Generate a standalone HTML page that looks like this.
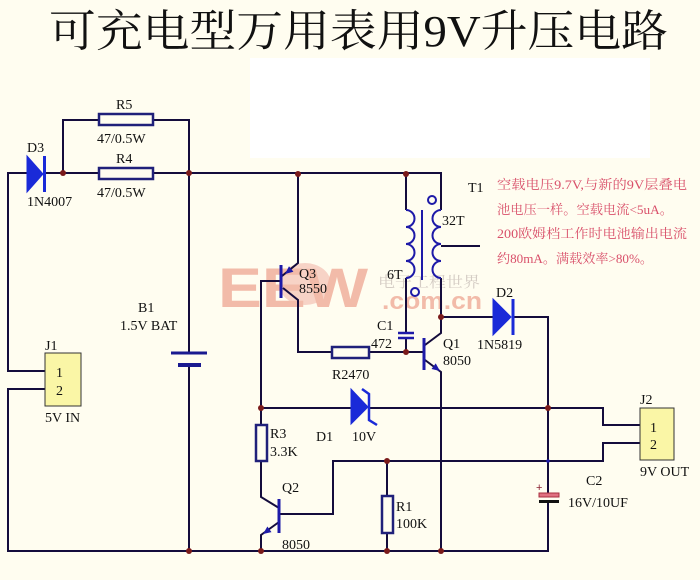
<!DOCTYPE html>
<html><head><meta charset="utf-8"><style>
html,body{margin:0;padding:0;background:#fffdf0;}
svg{display:block;}
.t{font-family:"Liberation Serif","Noto Serif CJK SC",serif;font-size:14px;fill:#111;}
</style></head><body>
<svg width="700" height="580" viewBox="0 0 700 580" xmlns="http://www.w3.org/2000/svg">
<rect x="0" y="0" width="700" height="580" fill="#fffdf0"/>
<rect x="250" y="58" width="400" height="100" fill="#ffffff"/>
<text x="49" y="46" font-family="'Liberation Serif','Noto Serif CJK SC',serif" font-size="44" fill="#111" textLength="619" lengthAdjust="spacingAndGlyphs">可充电型万用表用9V升压电路</text>
<ellipse cx="305" cy="284" rx="26" ry="21" fill="#f7d3c6"/>
<text x="218" y="307" font-family="'Liberation Sans',sans-serif" font-weight="bold" font-size="56" fill="#f2bba9" textLength="150" lengthAdjust="spacingAndGlyphs">EEW</text>
<text x="378" y="287" font-family="'Noto Serif CJK SC',serif" font-size="15" fill="#d4ccc4" textLength="102" lengthAdjust="spacingAndGlyphs">电子工程世界</text>
<text x="382" y="309" font-family="'Liberation Sans',sans-serif" font-weight="bold" font-size="24" fill="#f2bba9" textLength="100" lengthAdjust="spacingAndGlyphs">.com.cn</text>
<g fill="none" stroke="#140c3c" stroke-width="2">
<path d="M27,173 H8 V371 H45"/><path d="M45,389 H8 V551 H548 V501"/>
<path d="M43,173 H99"/><path d="M153,173 H441 V210"/>
<path d="M63,173 V120 H99"/><path d="M153,120 H189 V353"/><path d="M189,365 V551"/>
<path d="M298,174 V263 L282,276"/><path d="M283,288 L298,300 V352 H332"/><path d="M369,352 H423"/>
<path d="M281,281 H261 V425"/><path d="M261,461 V497 L279,508"/><path d="M279,522 L261,535 V551"/>
<path d="M279,514 H333 V461 H603 V443 H640"/>
<path d="M261,408 H351"/><path d="M369,408 H603 V425 H640"/>
<path d="M387,461 V496"/><path d="M387,533 V551"/>
<path d="M406,174 V210"/><path d="M406,278 V333"/><path d="M406,338 V352"/>
<path d="M441,278 V333 L425,345"/><path d="M441,246 H480"/>
<path d="M425,360 L441,372 V551"/>
<path d="M441,317 H493"/><path d="M513,317 H548 V493"/>
</g>
<g fill="none" stroke="#1e1aa8" stroke-width="2">
<path d="M406,210 a8.5,8.5 0 0 1 0,17 a8.5,8.5 0 0 1 0,17 a8.5,8.5 0 0 1 0,17 a8.5,8.5 0 0 1 0,17"/>
<path d="M441,210 a8.5,8.5 0 0 0 0,17 a8.5,8.5 0 0 0 0,17 a8.5,8.5 0 0 0 0,17 a8.5,8.5 0 0 0 0,17"/>
<line x1="422" y1="210" x2="422" y2="280"/>
<circle cx="432" cy="200" r="4"/><circle cx="415" cy="292" r="4"/>
<line x1="398" y1="333" x2="414" y2="333" stroke-width="2.5"/>
<line x1="398" y1="338" x2="414" y2="338" stroke-width="2.5"/>
</g>
<g stroke="#1e1aa8" stroke-width="3">
<line x1="281" y1="265" x2="281" y2="298"/>
<line x1="424" y1="338" x2="424" y2="370"/>
<line x1="279" y1="499" x2="279" y2="533"/>
</g>
<g fill="#1e1aa8">
<polygon points="285,274 293.4,271.7 289,266.2"/>
<polygon points="440,371 431.5,369 435.7,363.4"/>
<polygon points="263,534 271.5,532.1 267.4,526.5"/>
</g>
<g fill="#1a2ad8" stroke="#1a2ad8" stroke-width="1">
<polygon points="27,156 27,192 43,174"/>
<polygon points="493,299 493,335 511,317"/>
<polygon points="351,389 351,424 368,407"/>
</g>
<g stroke="#1a2ad8" stroke-width="3" fill="none">
<line x1="44.5" y1="156" x2="44.5" y2="192"/>
<line x1="513" y1="299" x2="513" y2="335"/>
<path d="M362,389 L369,394 V420 L377,425" stroke-width="2.5"/>
</g>
<g fill="#fffdf0" stroke="#20207a" stroke-width="2.5">
<rect x="99" y="114" width="54" height="11"/>
<rect x="99" y="168" width="54" height="11"/>
<rect x="332" y="347" width="37" height="11"/>
<rect x="256" y="425" width="11" height="36"/>
<rect x="382" y="496" width="11" height="37"/>
</g>
<line x1="171" y1="353" x2="207" y2="353" stroke="#1a1a90" stroke-width="3"/>
<line x1="178" y1="365" x2="201" y2="365" stroke="#1a1a90" stroke-width="4"/>
<rect x="45" y="353" width="36" height="53" fill="#faf6a6" stroke="#333" stroke-width="1"/>
<rect x="640" y="408" width="34" height="52" fill="#faf6a6" stroke="#333" stroke-width="1"/>
<rect x="539" y="493" width="20" height="4" fill="#e07080" stroke="#a83040" stroke-width="1"/>
<line x1="539" y1="501.5" x2="559" y2="501.5" stroke="#111" stroke-width="3"/>
<text x="536" y="491" font-family="'Liberation Sans',sans-serif" font-size="11" fill="#8a2030">+</text>
<g fill="#7a1a1a">
<circle cx="63" cy="173" r="3"/><circle cx="189" cy="173" r="3"/><circle cx="298" cy="174" r="3"/>
<circle cx="406" cy="174" r="3"/><circle cx="406" cy="352" r="3"/><circle cx="441" cy="317" r="3"/>
<circle cx="261" cy="408" r="3"/><circle cx="548" cy="408" r="3"/><circle cx="387" cy="461" r="3"/>
<circle cx="261" cy="551" r="3"/><circle cx="387" cy="551" r="3"/><circle cx="441" cy="551" r="3"/>
<circle cx="189" cy="551" r="3"/>
</g>
<circle cx="548" cy="461" r="1.8" fill="#1e1aa8"/>
<g class="t">
<text x="116" y="109">R5</text>
<text x="97" y="143">47/0.5W</text>
<text x="116" y="163">R4</text>
<text x="97" y="197">47/0.5W</text>
<text x="27" y="152">D3</text>
<text x="27" y="206">1N4007</text>
<text x="138" y="312">B1</text>
<text x="120" y="330">1.5V BAT</text>
<text x="45" y="350">J1</text>
<text x="56" y="377">1</text>
<text x="56" y="395">2</text>
<text x="45" y="422">5V IN</text>
<text x="299" y="278">Q3</text>
<text x="299" y="293">8550</text>
<text x="332" y="379">R2470</text>
<text x="387" y="279">6T</text>
<text x="442" y="225">32T</text>
<text x="468" y="192">T1</text>
<text x="377" y="330">C1</text>
<text x="371" y="348">472</text>
<text x="443" y="348">Q1</text>
<text x="443" y="365">8050</text>
<text x="496" y="297">D2</text>
<text x="477" y="349">1N5819</text>
<text x="316" y="441">D1</text>
<text x="352" y="441">10V</text>
<text x="270" y="438">R3</text>
<text x="270" y="456">3.3K</text>
<text x="282" y="492">Q2</text>
<text x="282" y="549">8050</text>
<text x="396" y="511">R1</text>
<text x="396" y="528">100K</text>
<text x="640" y="404">J2</text>
<text x="650" y="432">1</text>
<text x="650" y="449">2</text>
<text x="640" y="476">9V OUT</text>
<text x="586" y="485">C2</text>
<text x="568" y="507">16V/10UF</text>
</g>
<g font-family="'Liberation Serif','Noto Serif CJK SC',serif" font-size="13" fill="#d9506a">
<text x="497" y="189" textLength="190" lengthAdjust="spacingAndGlyphs">空载电压9.7V,与新的9V层叠电</text>
<text x="497" y="214" textLength="176" lengthAdjust="spacingAndGlyphs">池电压一样。空载电流&lt;5uA。</text>
<text x="497" y="238" textLength="190" lengthAdjust="spacingAndGlyphs">200欧姆档工作时电池输出电流</text>
<text x="497" y="263" textLength="156" lengthAdjust="spacingAndGlyphs">约80mA。满载效率&gt;80%。</text>
</g>
</svg>
</body></html>
